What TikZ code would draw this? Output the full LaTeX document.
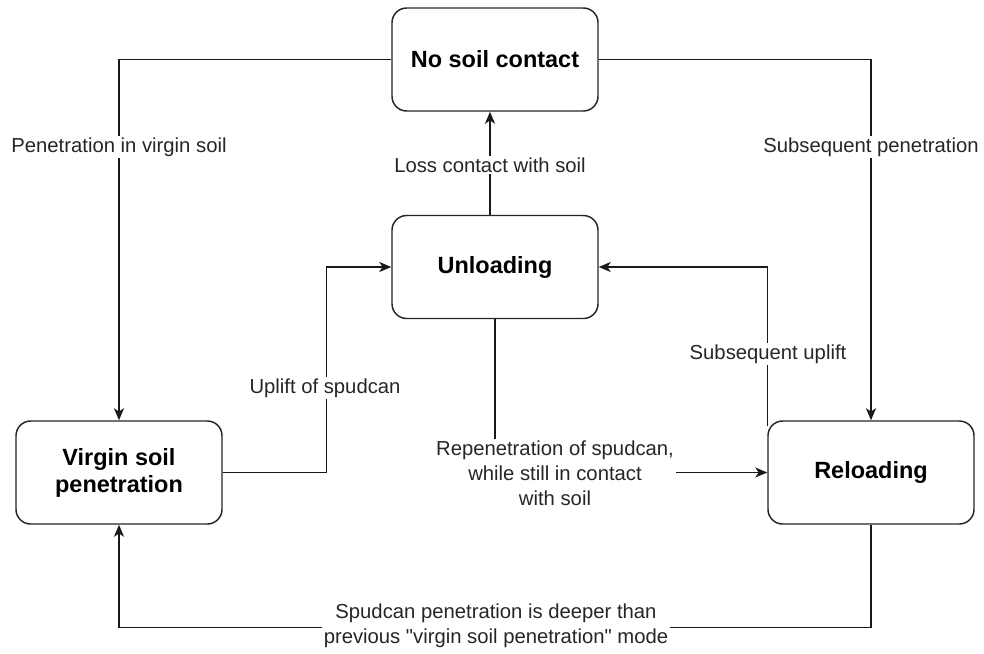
\documentclass[tikz,border=0pt]{standalone}
\usepackage{fontspec}
\setmainfont{Liberation Sans}[Ligatures=TeXOff]
\usetikzlibrary{arrows.meta,calc}
\begin{document}
\begin{tikzpicture}[x=0.75pt,y=-0.75pt,
  state/.style={draw=black!85,line width=1.1pt,rounded corners=11pt,fill=white,
    minimum width=154.5pt,minimum height=77.25pt,align=center,inner sep=0pt,
    font=\fontsize{17.6}{20.2}\selectfont\bfseries},
  lbl/.style={fill=white,align=center,inner sep=1.5pt,text=black!85,
    font=\fontsize{15.2}{18.7}\selectfont},
  conn/.style={line width=1.1pt,draw=black!90},
  arr/.style={conn,-{Stealth[length=9pt,width=7.5pt,inset=2.5pt]}}]
\useasboundingbox (0,0) rectangle (984,653);
\fill[white] (0,0) rectangle (984,653);
\node[state] (nsc) at (495,59.5) {No soil contact};
\node[state] (unl) at (495,267) {Unloading};
\node[state] (vsp) at (119,472.5) {Virgin soil\\penetration};
\node[state] (rel) at (871,472.5) {Reloading};
\coordinate (ltop) at ([xshift=-3.75pt]unl.north);
\coordinate (upstart) at ([yshift=-4.5pt]rel.north west);
\draw[arr] (nsc.west) -| (vsp.north);
\draw[arr] (nsc.east) -| (rel.north);
\draw[arr] (ltop) -- (ltop |- nsc.south);
\draw[arr] (vsp.east) -- ++(104,0) |- (unl.west);
\draw[arr] (upstart) |- (unl.east);
\draw[arr] (unl.south) |- (rel.west);
\draw[arr] (rel.south) -- ++(0,103) -| (vsp.south);
\node[lbl] (l1) at (119,147) {Penetration in virgin soil};
\node[lbl] (l2) at (871,147) {Subsequent penetration};
\node[lbl] (l3) at (490,165) {Loss contact with soil};
\node[lbl] (l4) at (325,388) {Uplift of spudcan};
\node[lbl] (l5) at (768,354) {Subsequent uplift};
\node[lbl] (l6) at (555,473) {Repenetration of spudcan,\\while still in contact\\with soil};
\node[lbl] (l7) at (496,626) {Spudcan penetration is deeper than\\previous "virgin soil penetration" mode};
\end{tikzpicture}
\end{document}
